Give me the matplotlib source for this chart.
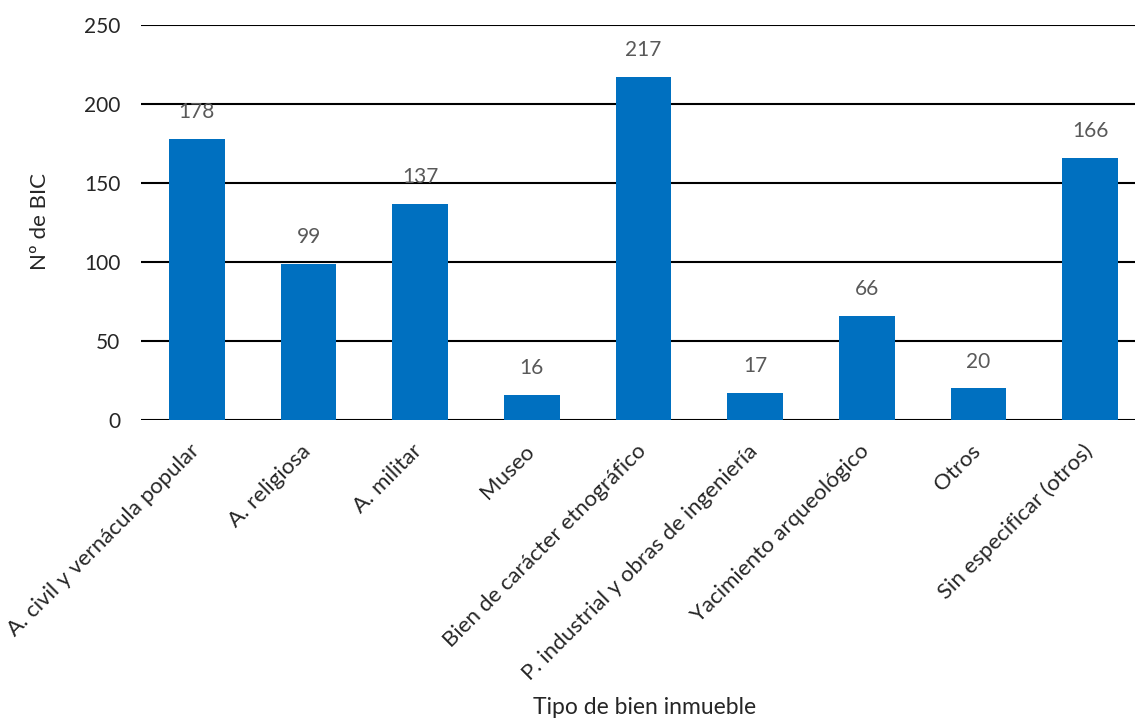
import matplotlib
matplotlib.use("Agg")
import matplotlib.pyplot as plt
from matplotlib.transforms import ScaledTranslation

categories = ["A. civil y vernácula popular", "A. religiosa", "A. militar", "Museo",
              "Bien de carácter etnográfico", "P. industrial y obras de ingeniería",
              "Yacimiento arqueológico", "Otros", "Sin especificar (otros)"]
values = [178, 99, 137, 16, 217, 17, 66, 20, 166]
yticks = [0, 50, 100, 150, 200, 250]

plt.rcParams['font.family'] = ['Lato', 'DejaVu Sans']
fig = plt.figure(figsize=(11.35, 7.19), dpi=100)
W, H = 1135, 719
ax = fig.add_axes([141 / W, 1 - 420 / H, (1146 - 141) / W, (420 - 25) / H])

x = list(range(len(categories)))
ax.bar(x, values, width=0.5, color='#0070C0', zorder=3)
ax.set_xlim(-0.5, len(categories) - 0.5)
ax.set_ylim(0, 250)
ax.set_yticks(yticks)
ax.yaxis.grid(True, color='black', linewidth=1.5, zorder=0)
ax.set_axisbelow(True)
for s in ax.spines.values():
    s.set_visible(False)
ax.tick_params(axis='both', length=0, labelsize=15, colors='#262626')
ax.tick_params(axis='y', pad=15)
ax.set_xticks(x)
ax.set_xticklabels(categories, rotation=45, ha='right', rotation_mode='anchor', fontsize=16)
offset = ScaledTranslation(-8 / 100, -16 / 100, fig.dpi_scale_trans)
for lab in ax.get_xticklabels():
    lab.set_transform(lab.get_transform() + offset)

for xi, v in zip(x, values):
    ax.annotate(str(v), (xi, v), xytext=(0, 12), textcoords='offset points',
                ha='center', va='bottom', fontsize=15, color='#595959')

fig.text(40 / W, 1 - 222 / H, 'Nº de BIC', rotation=90, ha='center', va='center',
         fontsize=16, color='#262626')
fig.text(645 / W, 1 - 708 / H, 'Tipo de bien inmueble', ha='center', va='center',
         fontsize=16.5, color='#262626')

fig.savefig('out.png', dpi=100)
